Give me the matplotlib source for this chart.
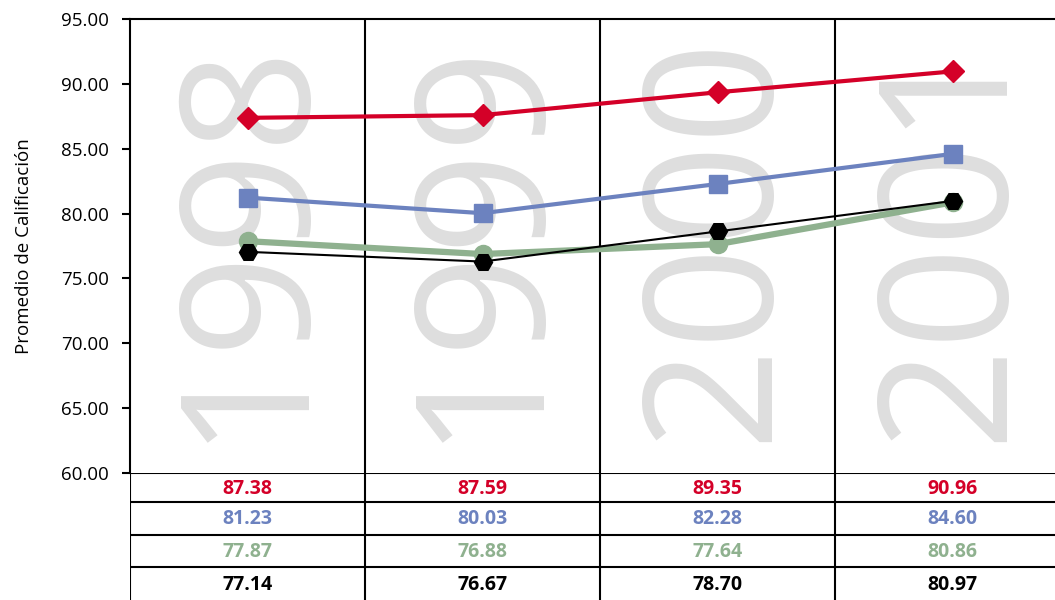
import matplotlib
matplotlib.use("Agg")
import matplotlib.pyplot as plt

# datos
anios = ["1998", "1999", "2000", "2001"]
rojo = [87.38, 87.59, 89.35, 90.96]
azul = [81.23, 80.03, 82.28, 84.60]
verde = [77.87, 76.88, 77.64, 80.86]
negro = [77.14, 76.67, 78.70, 80.97]
# posicion dibujada de la serie negra (difiere algo de la tabla en 1998/1999)
negro_graf = [77.05, 76.30, 78.62, 80.97]
yticks = [60, 65, 70, 75, 80, 85, 90, 95]

c_rojo = "#d40028"
c_azul = "#6c82bf"
c_verde = "#8fb18f"
c_negro = "#000000"
c_gris = "#dedede"

plt.rcParams["font.family"] = ["Open Sans", "DejaVu Sans"]

W, H = 1055, 600
fig = plt.figure(figsize=(W / 100, H / 100), dpi=100)
x0, xw = 130, 940  # plot runs past the right edge of the image
ax = fig.add_axes([x0 / W, (H - 473) / H, xw / W, 454 / H])
tab = fig.add_axes([x0 / W, 0, xw / W, 127 / H])

xs = [i + 0.5 for i in range(len(anios))]

# big rotated years in the background
for x, a in zip(xs, anios):
    ax.text(x, 62.4, a, rotation=90, ha="center", va="bottom",
            fontsize=129, color=c_gris, zorder=0)

for i in range(1, len(anios)):
    ax.axvline(i, color="black", lw=1.5, zorder=1)

ax.plot(xs, rojo, color=c_rojo, lw=3, marker="D", ms=11, zorder=3)
ax.plot(xs, azul, color=c_azul, lw=3, marker="s", ms=13, zorder=3)
ax.plot(xs, verde, color=c_verde, lw=4.5, marker="o", ms=13, zorder=3)
ax.plot(xs, negro_graf, color=c_negro, lw=1.5, marker="H", ms=13, zorder=4)

ax.set_xlim(0, len(anios))
ax.set_ylim(60, 95)
ax.set_yticks(yticks)
ax.set_yticklabels([f"{v:.2f}" for v in yticks], fontsize=13.5)
ax.tick_params(axis="y", length=6, width=1.5, pad=9)
ax.set_xticks([])
for s in ["right", "bottom"]:
    ax.spines[s].set_visible(False)
ax.spines["left"].set_linewidth(1.5)
ax.spines["top"].set_linewidth(1.5)
ax.set_ylabel("Promedio de Calificación", fontsize=13.5)
ax.yaxis.set_label_coords(-97 / xw, 0.5)

# data table under the plot
tab.set_xlim(0, len(anios))
tab.set_ylim(127, 0)
tab.axis("off")
filas = [(rojo, c_rojo), (azul, c_azul), (verde, c_verde), (negro, c_negro)]
bordes = [0, 29, 62, 94, 127]
for k, (serie, col) in enumerate(filas):
    yc = (bordes[k] + bordes[k + 1]) / 2 + 1
    for x, v in zip(xs, serie):
        tab.text(x, yc, f"{v:.2f}", ha="center", va="center",
                 fontsize=14, fontweight="bold", color=col)
for b in bordes[:-1]:
    tab.axhline(b, color="black", lw=1.5)
for i in range(len(anios)):
    tab.axvline(i, color="black", lw=1.5)

fig.savefig("out.png", dpi=100)
